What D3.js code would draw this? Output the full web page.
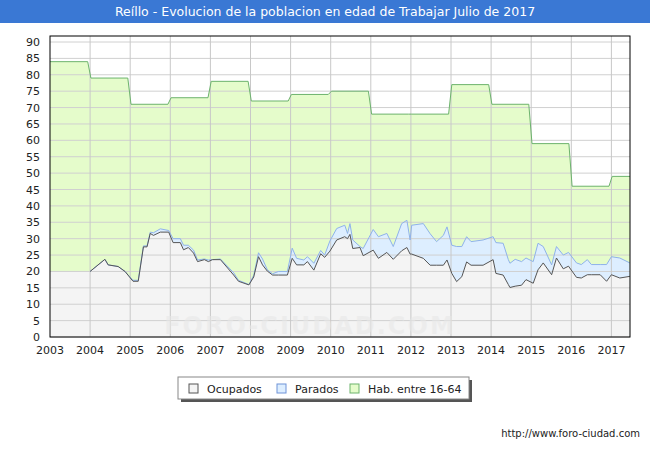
<!DOCTYPE html>
<html><head><meta charset="utf-8">
<script src="https://cdn.jsdelivr.net/npm/d3@7"></script>
<style>body{margin:0;background:#fff;font-family:Verdana,"DejaVu Sans",sans-serif}</style>
</head><body><div id="chart"></div>
<script>
// yearly working-age population (step per year)
var habYears = [2003,2004,2005,2006,2007,2008,2009,2010,2011,2012,2013,2014,2015,2016,2017];
var habValues = [84,79,71,73,78,72,74,75,68,68,77,71,59,46,49];
// sampled dates (decimal years) for ocupados / parados
var dates = [2003.0,2004.0,2004.37,2004.45,2004.7,2004.87,2005.07,2005.2,2005.33,2005.42,2005.5,2005.58,2005.75,2005.96,2006.07,2006.25,2006.33,2006.45,2006.58,2006.68,2006.85,2006.95,2007.05,2007.25,2007.58,2007.7,2007.96,2008.08,2008.2,2008.3,2008.42,2008.55,2008.7,2008.92,2009.04,2009.15,2009.33,2009.42,2009.58,2009.75,2009.85,2009.98,2010.15,2010.35,2010.42,2010.48,2010.55,2010.73,2010.81,2011.06,2011.19,2011.4,2011.56,2011.77,2011.9,2011.98,2012.02,2012.31,2012.48,2012.64,2012.81,2012.9,2013.02,2013.14,2013.27,2013.39,2013.5,2013.8,2014.05,2014.12,2014.3,2014.43,2014.47,2014.6,2014.76,2014.87,2015.05,2015.17,2015.3,2015.51,2015.63,2015.8,2015.93,2016.13,2016.25,2016.4,2016.5,2016.72,2016.88,2017.0,2017.21,2017.46];
var ocupados = [20,20,23.7,22,21.5,20,17,17,27.5,27.5,31.6,31,32,32,28.8,28.8,26.6,27.3,25.6,23,23.6,23,23.6,23.6,18.9,17,15.9,18.3,24.5,22,20.1,18.9,18.9,18.9,24,22,22,23,20.4,25.4,24.3,26.2,29.6,30.6,30,31.3,27,27.3,24.8,26.5,24,25.8,23.7,26.3,27.3,25.3,25.3,24,21.9,21.9,21.9,23.5,19.4,16.9,18.4,22.9,21.9,21.9,23.6,19.4,18.9,16,15.1,15.5,15.8,17.5,16.4,20.5,22.6,19,24.1,20.8,21.6,18.2,18,19,19,19,17,19,18,18.5];
var parados = [0,0,0,0,0,0,0.3,0.3,0.3,0.3,0.4,0.8,1,0.5,1.2,1.2,1.4,0.7,0.9,0.5,0.2,0.5,0,0.2,0.7,0.3,0.1,0.5,1.2,1.8,0.4,0.4,1.1,1.1,3.1,2,1.5,1.5,2.1,1,0.7,3.1,3.5,3.5,1.6,3.3,2.6,0.3,2.2,6.3,6.6,5.8,3.9,8.3,8.3,4.3,8.8,10.6,9.6,7.2,9.1,10.1,8.6,10.7,9.2,7.7,7.2,7.7,7,9.4,9.7,7.6,7.4,8.2,7.2,6.6,6.6,8.1,5,3,3.5,4.2,4.2,4.4,4.1,4.6,3.1,3.1,5.1,5.5,6.1,4.1];
var yTicks = d3.range(0, 95, 5);

var W = 650, H = 450, x0 = 50, x1 = 630, yTop = 36, yBot = 337;
var svg = d3.select("#chart").append("svg").attr("width", W).attr("height", H);

var x = d3.scaleLinear().domain([2003, 2003 + (x1 - x0) / 40.1]).range([x0, x1]);
var y = d3.scaleLinear().domain([0, 90]).range([yBot, 42]);

// title bar
svg.append("rect").attr("x", 0).attr("y", 0).attr("width", W).attr("height", 23).attr("fill", "#3a78d4");
svg.append("text").attr("x", W / 2).attr("y", 16).attr("text-anchor", "middle").attr("fill", "#fff")
  .attr("font-size", "12.5px").text("Reíllo - Evolucion de la poblacion en edad de Trabajar Julio de 2017");

var hab = [];
habYears.forEach(function(yr, i) {
  hab.push({t: yr + (i == 0 ? 0 : 0.02), v: habValues[i]});
  hab.push({t: Math.min(yr + 0.94, x.domain()[1]), v: habValues[i]});
});
var pts = dates.map(function(t, i) { return {t: t, o: ocupados[i], p: ocupados[i] + parados[i]}; });

svg.append("rect").attr("x", x0).attr("y", yTop).attr("width", x1 - x0).attr("height", yBot - yTop).attr("fill", "#fff");

var area = d3.area().x(function(d) { return x(d.t); }).y0(yBot);
svg.append("path").datum(hab).attr("fill", "#e5fccb")
  .attr("d", area.y1(function(d) { return y(d.v); }));
svg.append("path").datum(pts).attr("fill", "#ddeeff")
  .attr("d", area.y1(function(d) { return y(d.p); }));
svg.append("path").datum(pts).attr("fill", "#f4f4f4")
  .attr("d", area.y1(function(d) { return y(d.o); }));

// grid
svg.selectAll(".hg").data(yTicks).enter().append("line")
  .attr("x1", x0).attr("x2", x1).attr("y1", function(d) { return y(d); }).attr("y2", function(d) { return y(d); })
  .attr("stroke", "#d0d0d0").attr("stroke-width", 1);
svg.selectAll(".vg").data(d3.range(2004, 2018)).enter().append("line")
  .attr("x1", function(d) { return x(d); }).attr("x2", function(d) { return x(d); }).attr("y1", yTop).attr("y2", yBot)
  .attr("stroke", "#c8c8c8").attr("stroke-width", 1);

// watermark
svg.append("text").attr("x", 310).attr("y", 334).attr("text-anchor", "middle").attr("font-size", "24px")
  .attr("font-weight", "bold").attr("fill", "#e8e8e8").attr("fill-opacity", 0.6).attr("letter-spacing", "2px").text("FORO-CIUDAD.COM");

var line = d3.line().x(function(d) { return x(d.t); });
svg.append("path").datum(hab).attr("fill", "none").attr("stroke", "#6cb36c")
  .attr("d", line.y(function(d) { return y(d.v); }));
var from04 = pts.filter(function(d) { return d.t >= 2004; });
svg.append("path").datum(from04).attr("fill", "none").attr("stroke", "#8fb2ea")
  .attr("d", line.y(function(d) { return y(d.p); }));
svg.append("path").datum(from04).attr("fill", "none").attr("stroke", "#555")
  .attr("d", line.y(function(d) { return y(d.o); }));

svg.append("rect").attr("x", x0).attr("y", yTop).attr("width", x1 - x0).attr("height", yBot - yTop)
  .attr("fill", "none").attr("stroke", "#000");

// axes
svg.selectAll(".yl").data(yTicks).enter().append("text")
  .attr("x", 40).attr("y", function(d) { return y(d) + 4; }).attr("text-anchor", "end")
  .attr("font-size", "11px").attr("fill", "#222").text(function(d) { return d; });
svg.selectAll(".xl").data(d3.range(2003, 2018)).enter().append("text")
  .attr("x", function(d) { return x(d); }).attr("y", 354).attr("text-anchor", "middle")
  .attr("font-size", "11px").attr("fill", "#222").text(function(d) { return d; });

// legend
var lg = svg.append("g");
lg.append("rect").attr("x", 181).attr("y", 380).attr("width", 291).attr("height", 22).attr("fill", "#555");
lg.append("rect").attr("x", 178).attr("y", 377).attr("width", 291).attr("height", 22).attr("fill", "#fff").attr("stroke", "#888");
var items = [["Ocupados", "#f4f4f4", "#555", 189], ["Parados", "#ddeeff", "#6f93d8", 277], ["Hab. entre 16-64", "#e5fccb", "#6cb36c", 350]];
items.forEach(function(it) {
  lg.append("rect").attr("x", it[3]).attr("y", 384).attr("width", 9).attr("height", 9).attr("fill", it[1]).attr("stroke", it[2]);
  lg.append("text").attr("x", it[3] + 18).attr("y", 393).attr("font-size", "11px").attr("fill", "#222").text(it[0]);
});

svg.append("text").attr("x", 640).attr("y", 437).attr("text-anchor", "end").attr("font-size", "10px")
  .attr("fill", "#222").text("http://www.foro-ciudad.com");
</script></body></html>
